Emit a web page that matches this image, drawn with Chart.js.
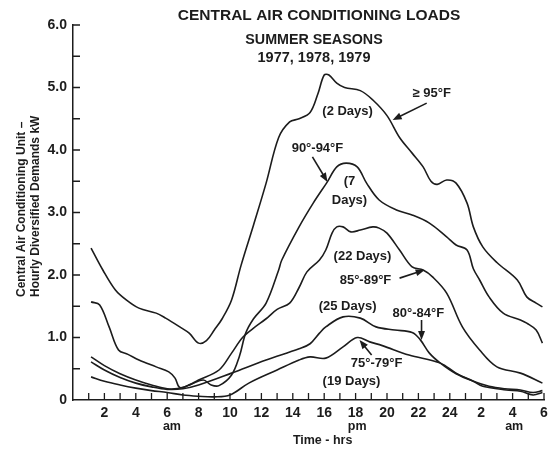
<!DOCTYPE html>
<html>
<head>
<meta charset="utf-8">
<script src="https://cdn.jsdelivr.net/npm/chart.js@4.4.0/dist/chart.umd.min.js"></script>
<style>
  html, body { margin: 0; padding: 0; background: #fff; }
  #wrap { width: 550px; height: 455px; }
</style>
</head>
<body>
<div id="wrap"><canvas id="chart" width="550" height="455"></canvas></div>
<script>
// hour of day (0 = midnight, 24 = next midnight, 30 = 6 am next day) and kW
const hot95Hours = [1.15, 1.9, 2.7, 3.4, 4.2, 5.3, 5.9, 6.8, 7.4, 8.0, 8.5, 9.0, 9.5, 10.1, 10.7, 11.5, 12.3, 13.1, 13.8, 14.4, 15.1, 15.6, 16.0, 16.3, 16.8, 17.3, 18.3, 19.1, 20.0, 20.8, 21.6, 22.3, 22.8, 23.2, 23.8, 24.4, 25.1, 25.5, 26.1, 27.0, 28.3, 28.9, 29.5, 29.9];
const hot95Kw = [2.43, 2.08, 1.76, 1.6, 1.47, 1.39, 1.31, 1.17, 1.07, 0.91, 0.95, 1.12, 1.3, 1.6, 2.15, 2.8, 3.47, 4.2, 4.45, 4.5, 4.6, 4.9, 5.2, 5.2, 5.07, 5.0, 4.95, 4.8, 4.55, 4.2, 3.95, 3.73, 3.5, 3.45, 3.52, 3.47, 3.15, 2.77, 2.45, 2.2, 1.92, 1.65, 1.55, 1.49];

const t90Hours = [1.15, 1.7, 2.3, 2.9, 3.5, 4.2, 5.3, 6.1, 6.5, 6.8, 7.5, 8.3, 8.8, 9.3, 10.1, 10.6, 11.0, 11.5, 12.3, 13.1, 13.3, 14.4, 15.3, 16.2, 16.8, 17.4, 18.1, 18.7, 19.5, 20.6, 21.6, 22.7, 23.8, 24.4, 25.1, 25.5, 25.9, 26.5, 27.4, 28.5, 28.9, 29.5, 29.9];
const t90Kw = [1.57, 1.52, 1.17, 0.8, 0.73, 0.64, 0.53, 0.45, 0.35, 0.2, 0.25, 0.32, 0.24, 0.23, 0.4, 0.7, 1.07, 1.3, 1.55, 2.08, 2.24, 2.77, 3.15, 3.49, 3.73, 3.79, 3.73, 3.47, 3.2, 3.04, 2.96, 2.83, 2.61, 2.48, 2.4, 2.1, 1.92, 1.65, 1.39, 1.28, 1.23, 1.12, 0.91];

const t85Hours = [1.15, 2, 3, 4, 5, 6, 7, 8, 9.3, 10.1, 10.8, 11.5, 12.3, 13, 13.8, 14.4, 14.9, 15.7, 16.1, 16.5, 16.8, 17.2, 17.7, 18.3, 19.1, 19.5, 20, 20.8, 21.6, 22.3, 22.9, 23.8, 24.8, 25.9, 27, 28.5, 29.9];
const t85Kw = [0.69, 0.55, 0.42, 0.32, 0.24, 0.18, 0.2, 0.32, 0.48, 0.75, 1.0, 1.15, 1.3, 1.45, 1.55, 1.8, 2.05, 2.24, 2.4, 2.67, 2.77, 2.77, 2.69, 2.72, 2.77, 2.75, 2.67, 2.4, 2.13, 2.08, 1.97, 1.71, 1.17, 0.8, 0.53, 0.43, 0.27];

const t80Hours = [1.15, 2, 3, 4, 5, 6, 7, 8, 10.1, 12.3, 14.4, 15.1, 15.7, 16.1, 17.2, 18.3, 19.3, 20.5, 21.6, 22.1, 22.7, 23.4, 24.4, 25.5, 26.5, 27.5, 28.5, 29.3, 29.9];
const t80Kw = [0.61, 0.48, 0.36, 0.27, 0.21, 0.17, 0.18, 0.24, 0.43, 0.64, 0.82, 0.9, 1.07, 1.17, 1.33, 1.31, 1.17, 1.12, 1.08, 0.97, 0.75, 0.59, 0.42, 0.3, 0.22, 0.18, 0.16, 0.12, 0.15];

const t75Hours = [1.15, 2, 3, 4, 5, 6, 7, 8, 9, 10, 11.2, 13, 14.4, 15.1, 16.1, 17.2, 18.1, 18.9, 19.7, 21.4, 23.4, 24.4, 25.5, 26.1, 27.6, 28.5, 29.3, 29.9];
const t75Kw = [0.37, 0.3, 0.24, 0.19, 0.15, 0.12, 0.08, 0.06, 0.05, 0.08, 0.27, 0.48, 0.64, 0.69, 0.67, 0.85, 1.0, 0.93, 0.87, 0.72, 0.59, 0.43, 0.3, 0.22, 0.16, 0.14, 0.08, 0.12];

const xLabelHours = [2, 4, 6, 8, 10, 12, 14, 16, 18, 20, 22, 24, 26, 28, 30];
const xLabelText = ["2", "4", "6", "8", "10", "12", "14", "16", "18", "20", "22", "24", "2", "4", "6"];
const yLabelValues = [0, 1, 2, 3, 4, 5, 6];
const yLabelText = ["0", "1.0", "2.0", "3.0", "4.0", "5.0", "6.0"];

const ink = "#1c1c1c";
const family = "'Liberation Sans', Arial, sans-serif";

// text notes on the plot, placed in data units (hour, kW)
const notes = [
  { text: "\u2265 95\u00b0F", h: 22.85, v: 4.91 },
  { text: "(2 Days)", h: 17.49, v: 4.61 },
  { text: "90\u00b0-94\u00b0F", h: 15.57, v: 4.03 },
  { text: "(7", h: 17.61, v: 3.49 },
  { text: "Days)", h: 17.61, v: 3.2 },
  { text: "(22 Days)", h: 18.44, v: 2.29 },
  { text: "85\u00b0-89\u00b0F", h: 18.63, v: 1.92 },
  { text: "(25 Days)", h: 17.49, v: 1.5 },
  { text: "80\u00b0-84\u00b0F", h: 22.0, v: 1.39 },
  { text: "75\u00b0-79\u00b0F", h: 19.34, v: 0.59 },
  { text: "(19 Days)", h: 17.74, v: 0.29 },
];
const arrows = [
  { h1: 22.53, v1: 4.75, h2: 20.36, v2: 4.48 },
  { h1: 15.25, v1: 3.89, h2: 16.21, v2: 3.49 },
  { h1: 20.8, v1: 1.95, h2: 22.4, v2: 2.08 },
  { h1: 22.2, v1: 1.28, h2: 22.2, v2: 0.96 },
  { h1: 19.02, v1: 0.72, h2: 18.25, v2: 0.96 },
];

function toPoints(hours, kw) {
  return hours.map((h, i) => ({ x: h, y: kw[i] }));
}

function series(hours, kw) {
  return {
    data: toPoints(hours, kw),
    borderColor: ink,
    borderWidth: 1.6,
    pointRadius: 0,
    tension: 0.35,
    fill: false,
  };
}

const decor = {
  id: "decor",
  afterDraw(chart) {
    const { ctx, chartArea: a, scales: { x, y } } = chart;
    ctx.save();
    ctx.strokeStyle = ink;
    ctx.fillStyle = ink;
    ctx.lineWidth = 1.3;

    // inward tick marks
    ctx.beginPath();
    for (let h = 1; h <= 30; h++) {
      const px = x.getPixelForValue(h);
      ctx.moveTo(px, a.bottom);
      ctx.lineTo(px, a.bottom - 7);
    }
    for (let v = 0.5; v <= 6; v += 0.5) {
      const py = y.getPixelForValue(v);
      ctx.moveTo(a.left, py);
      ctx.lineTo(a.left + 7, py);
    }
    ctx.stroke();

    // title
    ctx.textAlign = "center";
    ctx.textBaseline = "middle";
    ctx.font = "bold 15.5px " + family;
    ctx.fillText("CENTRAL AIR CONDITIONING LOADS", 319, 16);
    ctx.font = "bold 14.3px " + family;
    ctx.fillText("SUMMER SEASONS", 314, 40);
    ctx.font = "bold 14.5px " + family;
    ctx.fillText("1977, 1978, 1979", 314, 58);

    // x axis sub labels
    ctx.font = "bold 12.5px " + family;
    ctx.fillText("am", x.getPixelForValue(6.3), 427);
    ctx.fillText("pm", x.getPixelForValue(18.1), 427);
    ctx.fillText("am", x.getPixelForValue(28.1), 427);
    ctx.fillText("Time - hrs", x.getPixelForValue(15.9), 441);

    // y axis title
    ctx.save();
    ctx.translate(22, 297);
    ctx.rotate(-Math.PI / 2);
    ctx.textAlign = "left";
    ctx.font = "bold 12px " + family;
    ctx.fillText("Central Air Conditioning Unit \u2013", 0, 0);
    ctx.fillText("Hourly Diversified Demands kW", 0, 14);
    ctx.restore();

    // notes
    ctx.font = "bold 13px " + family;
    notes.forEach((n) => {
      ctx.fillText(n.text, x.getPixelForValue(n.h), y.getPixelForValue(n.v));
    });

    // arrows
    arrows.forEach((ar) => {
      const x1 = x.getPixelForValue(ar.h1), y1 = y.getPixelForValue(ar.v1);
      const x2 = x.getPixelForValue(ar.h2), y2 = y.getPixelForValue(ar.v2);
      const ang = Math.atan2(y2 - y1, x2 - x1);
      ctx.lineWidth = 1.6;
      ctx.beginPath();
      ctx.moveTo(x1, y1);
      ctx.lineTo(x2 - 6 * Math.cos(ang), y2 - 6 * Math.sin(ang));
      ctx.stroke();
      ctx.beginPath();
      ctx.moveTo(x2, y2);
      ctx.lineTo(x2 - 9 * Math.cos(ang) + 3.5 * Math.sin(ang), y2 - 9 * Math.sin(ang) - 3.5 * Math.cos(ang));
      ctx.lineTo(x2 - 9 * Math.cos(ang) - 3.5 * Math.sin(ang), y2 - 9 * Math.sin(ang) + 3.5 * Math.cos(ang));
      ctx.closePath();
      ctx.fill();
    });
    ctx.restore();
  },
};

new Chart(document.getElementById("chart"), {
  type: "line",
  data: {
    datasets: [
      series(hot95Hours, hot95Kw),
      series(t90Hours, t90Kw),
      series(t85Hours, t85Kw),
      series(t80Hours, t80Kw),
      series(t75Hours, t75Kw),
    ],
  },
  options: {
    responsive: false,
    animation: false,
    layout: { padding: { top: 25, right: 6, left: 0, bottom: 0 } },
    plugins: {
      legend: { display: false },
      tooltip: { enabled: false },
    },
    scales: {
      x: {
        type: "linear",
        min: 0,
        max: 30,
        afterFit: (scale) => { scale.height = 55; },
        grid: { display: false },
        border: { display: true, color: ink, width: 1.5 },
        ticks: {
          stepSize: 1,
          autoSkip: false,
          maxRotation: 0,
          padding: -3,
          color: ink,
          font: { family, size: 14, weight: "bold" },
          callback: (val) => {
            const i = xLabelHours.indexOf(val);
            return i >= 0 ? xLabelText[i] : "";
          },
        },
      },
      y: {
        min: 0,
        max: 6,
        afterFit: (scale) => { scale.width = 73; },
        grid: { display: false },
        border: { display: true, color: ink, width: 1.5 },
        ticks: {
          stepSize: 0.5,
          padding: -2,
          color: ink,
          font: { family, size: 14, weight: "bold" },
          callback: (val) => {
            const i = yLabelValues.indexOf(val);
            return i >= 0 ? yLabelText[i] : "";
          },
        },
      },
    },
  },
  plugins: [decor],
});
</script>
</body>
</html>
